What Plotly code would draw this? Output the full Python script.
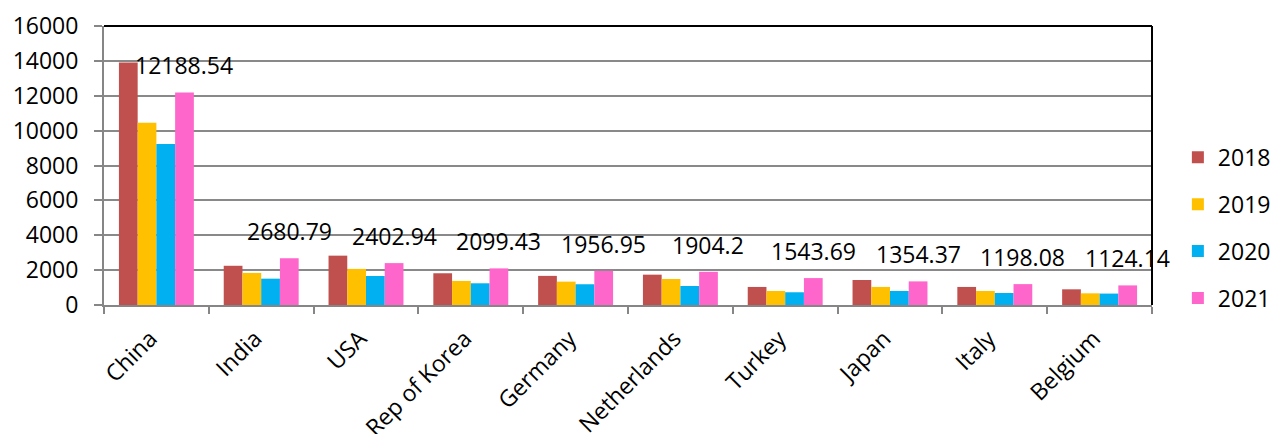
import plotly.graph_objects as go

categories = ["China", "India", "USA", "Rep of Korea", "Germany", "Netherlands",
              "Turkey", "Japan", "Italy", "Belgium"]
years = ["2018", "2019", "2020", "2021"]
v2018 = [13900, 2250, 2830, 1820, 1670, 1740, 1035, 1435, 1035, 900]
v2019 = [10450, 1840, 2070, 1380, 1340, 1490, 805, 1035, 805, 670]
v2020 = [9240, 1510, 1665, 1245, 1190, 1090, 730, 805, 690, 655]
v2021 = [12188.54, 2680.79, 2402.94, 2099.43, 1956.95, 1904.2, 1543.69, 1354.37, 1198.08, 1124.14]
series = [v2018, v2019, v2020, v2021]
colors = ["#C0504D", "#FFC000", "#00B0F0", "#FF66CC"]
y_ticks = [0, 2000, 4000, 6000, 8000, 10000, 12000, 14000, 16000]

FONT = "Open Sans, Liberation Sans, sans-serif"

fig = go.Figure()
for name, vals, col in zip(years, series, colors):
    fig.add_trace(go.Bar(x=categories, y=vals, name=name, marker_color=col,
                         marker_line_width=0, legendgroup=name))

for c, v in zip(categories, v2021):
    fig.add_annotation(x=c, y=v, text=str(v), showarrow=False, xshift=28, yshift=27,
                       yanchor="middle", xanchor="center",
                       font=dict(family=FONT, size=23, color="#000000"))

# black top and right frame lines
fig.add_shape(type="line", xref="paper", yref="paper", x0=0, x1=1, y0=1, y1=1,
              line=dict(color="#000000", width=2))
fig.add_shape(type="line", xref="paper", yref="paper", x0=1, x1=1, y0=0, y1=1,
              line=dict(color="#000000", width=2))

fig.update_layout(
    width=1272, height=434,
    margin=dict(l=104, r=120, t=26, b=129, pad=0, autoexpand=False),
    paper_bgcolor="white", plot_bgcolor="white",
    barmode="group", bargap=0.285, bargroupgap=0,
    font=dict(family=FONT, size=23, color="#000000"),
    legend=dict(xref="container", x=0.926, xanchor="left",
                yref="container", y=0.687, yanchor="top",
                traceorder="grouped", tracegroupgap=14,
                font=dict(family=FONT, size=23, color="#000000"),
                bgcolor="rgba(0,0,0,0)"),
    xaxis=dict(range=[-0.5, len(categories) - 0.5], autorange=False,
               showgrid=False, showline=True, linecolor="#868686", linewidth=2,
               ticks="outside", tickson="boundaries", ticklen=7, tickcolor="#868686",
               tickwidth=2, tickangle=-45, automargin=False, ticklabelstandoff=9,
               ticklabelshift=-6,
               tickfont=dict(family=FONT, size=23, color="#000000")),
    yaxis=dict(range=[0, 16000], autorange=False, tickvals=y_ticks, tickformat="d",
               showgrid=True, gridcolor="#898989", gridwidth=1.5,
               showline=True, linecolor="#868686", linewidth=2,
               ticks="outside", ticklen=8, tickcolor="#868686", tickwidth=2,
               ticklabelstandoff=11, zeroline=False, automargin=False,
               tickfont=dict(family=FONT, size=23, color="#000000")),
)

fig.write_html("out.html")
